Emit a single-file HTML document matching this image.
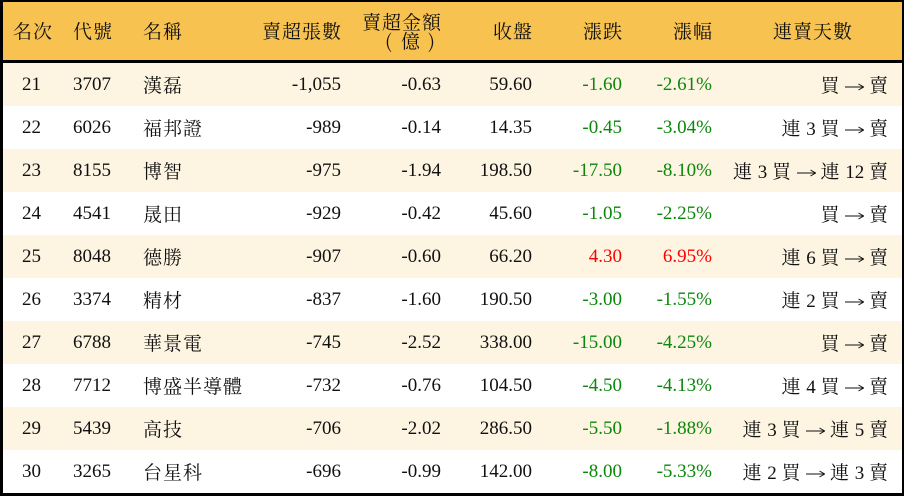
<!DOCTYPE html>
<html><head><meta charset="utf-8">
<style>
html,body{margin:0;padding:0;background:#fff;}
body{width:904px;height:496px;position:relative;overflow:hidden;font-family:"Liberation Serif","Noto Serif CJK SC",serif;font-size:19px;color:#111;}
.frame{position:absolute;left:0;top:0;width:904px;height:496px;box-sizing:border-box;border:2px solid #000;border-left-width:3px;border-bottom-width:3px;}
.hdr{position:absolute;left:0;top:0;width:904px;height:60px;background:#F8C251;}
.hline{position:absolute;left:0;top:60px;width:904px;height:3px;background:#000;}
.row{position:absolute;left:0;width:904px;height:43px;}
.c{position:absolute;top:0;height:43px;line-height:43px;white-space:nowrap;}
.h{position:absolute;top:2px;height:58px;line-height:58px;white-space:nowrap;letter-spacing:1px;}
.cj{font-family:"Noto Serif CJK SC","Liberation Serif",serif;letter-spacing:1px;}
.g{color:#0B870B;}
.r{color:#FF0000;}
svg.ar{vertical-align:middle;position:relative;top:-1px;margin:0;}
.p{position:absolute;font-family:"Noto Serif CJK SC",serif;line-height:18px;}
</style></head><body>
<div class="hdr"></div>
<div class="hline"></div>

<div class="h cj" style="left:13px;">名次</div>
<div class="h cj" style="left:73px;">代號</div>
<div class="h cj" style="left:143px;">名稱</div>
<div class="h cj" style="right:562px;">賣超張數</div>
<div class="cj" style="position:absolute;right:462px;top:13px;line-height:18px;text-align:right;letter-spacing:1px;">賣超金額</div>
<span class="p" style="left:385px;top:32px;">(</span>
<span class="p" style="left:401px;top:32px;">億</span>
<span class="p" style="left:428px;top:32px;">)</span>
<div class="h cj" style="right:371px;">收盤</div>
<div class="h cj" style="right:281px;">漲跌</div>
<div class="h cj" style="right:191px;">漲幅</div>
<div class="h cj" style="left:773px;">連賣天數</div>

<div class="row" style="top:63px;background:#FDF4E1;">
<span class="c" style="left:22px;">21</span><span class="c" style="left:73px;">3707</span><span class="c cj" style="left:143px;">漢磊</span>
<span class="c" style="right:563px;">-1,055</span><span class="c" style="right:463px;">-0.63</span><span class="c" style="right:372px;">59.60</span>
<span class="c g" style="right:282px;">-1.60</span><span class="c g" style="right:192px;">-2.61%</span>
<span class="c" style="right:15px;"><span class="cj">買</span> <svg class="ar" width="19" height="10"><line x1="0" y1="5" x2="18" y2="5" stroke="#111" stroke-width="1"/><path d="M13.5 2 L18.6 5 L13.5 8" fill="none" stroke="#111" stroke-width="1"/></svg> <span class="cj">賣</span></span></div>

<div class="row" style="top:106px;background:#fff;">
<span class="c" style="left:22px;">22</span><span class="c" style="left:73px;">6026</span><span class="c cj" style="left:143px;">福邦證</span>
<span class="c" style="right:563px;">-989</span><span class="c" style="right:463px;">-0.14</span><span class="c" style="right:372px;">14.35</span>
<span class="c g" style="right:282px;">-0.45</span><span class="c g" style="right:192px;">-3.04%</span>
<span class="c" style="right:15px;"><span class="cj">連</span> 3 <span class="cj">買</span> <svg class="ar" width="19" height="10"><line x1="0" y1="5" x2="18" y2="5" stroke="#111" stroke-width="1"/><path d="M13.5 2 L18.6 5 L13.5 8" fill="none" stroke="#111" stroke-width="1"/></svg> <span class="cj">賣</span></span></div>

<div class="row" style="top:149px;background:#FDF4E1;">
<span class="c" style="left:22px;">23</span><span class="c" style="left:73px;">8155</span><span class="c cj" style="left:143px;">博智</span>
<span class="c" style="right:563px;">-975</span><span class="c" style="right:463px;">-1.94</span><span class="c" style="right:372px;">198.50</span>
<span class="c g" style="right:282px;">-17.50</span><span class="c g" style="right:192px;">-8.10%</span>
<span class="c" style="right:15px;"><span class="cj">連</span> 3 <span class="cj">買</span> <svg class="ar" width="19" height="10"><line x1="0" y1="5" x2="18" y2="5" stroke="#111" stroke-width="1"/><path d="M13.5 2 L18.6 5 L13.5 8" fill="none" stroke="#111" stroke-width="1"/></svg> <span class="cj">連</span> 12 <span class="cj">賣</span></span></div>

<div class="row" style="top:192px;background:#fff;">
<span class="c" style="left:22px;">24</span><span class="c" style="left:73px;">4541</span><span class="c cj" style="left:143px;">晟田</span>
<span class="c" style="right:563px;">-929</span><span class="c" style="right:463px;">-0.42</span><span class="c" style="right:372px;">45.60</span>
<span class="c g" style="right:282px;">-1.05</span><span class="c g" style="right:192px;">-2.25%</span>
<span class="c" style="right:15px;"><span class="cj">買</span> <svg class="ar" width="19" height="10"><line x1="0" y1="5" x2="18" y2="5" stroke="#111" stroke-width="1"/><path d="M13.5 2 L18.6 5 L13.5 8" fill="none" stroke="#111" stroke-width="1"/></svg> <span class="cj">賣</span></span></div>

<div class="row" style="top:235px;background:#FDF4E1;">
<span class="c" style="left:22px;">25</span><span class="c" style="left:73px;">8048</span><span class="c cj" style="left:143px;">德勝</span>
<span class="c" style="right:563px;">-907</span><span class="c" style="right:463px;">-0.60</span><span class="c" style="right:372px;">66.20</span>
<span class="c r" style="right:282px;">4.30</span><span class="c r" style="right:192px;">6.95%</span>
<span class="c" style="right:15px;"><span class="cj">連</span> 6 <span class="cj">買</span> <svg class="ar" width="19" height="10"><line x1="0" y1="5" x2="18" y2="5" stroke="#111" stroke-width="1"/><path d="M13.5 2 L18.6 5 L13.5 8" fill="none" stroke="#111" stroke-width="1"/></svg> <span class="cj">賣</span></span></div>

<div class="row" style="top:278px;background:#fff;">
<span class="c" style="left:22px;">26</span><span class="c" style="left:73px;">3374</span><span class="c cj" style="left:143px;">精材</span>
<span class="c" style="right:563px;">-837</span><span class="c" style="right:463px;">-1.60</span><span class="c" style="right:372px;">190.50</span>
<span class="c g" style="right:282px;">-3.00</span><span class="c g" style="right:192px;">-1.55%</span>
<span class="c" style="right:15px;"><span class="cj">連</span> 2 <span class="cj">買</span> <svg class="ar" width="19" height="10"><line x1="0" y1="5" x2="18" y2="5" stroke="#111" stroke-width="1"/><path d="M13.5 2 L18.6 5 L13.5 8" fill="none" stroke="#111" stroke-width="1"/></svg> <span class="cj">賣</span></span></div>

<div class="row" style="top:321px;background:#FDF4E1;">
<span class="c" style="left:22px;">27</span><span class="c" style="left:73px;">6788</span><span class="c cj" style="left:143px;">華景電</span>
<span class="c" style="right:563px;">-745</span><span class="c" style="right:463px;">-2.52</span><span class="c" style="right:372px;">338.00</span>
<span class="c g" style="right:282px;">-15.00</span><span class="c g" style="right:192px;">-4.25%</span>
<span class="c" style="right:15px;"><span class="cj">買</span> <svg class="ar" width="19" height="10"><line x1="0" y1="5" x2="18" y2="5" stroke="#111" stroke-width="1"/><path d="M13.5 2 L18.6 5 L13.5 8" fill="none" stroke="#111" stroke-width="1"/></svg> <span class="cj">賣</span></span></div>

<div class="row" style="top:364px;background:#fff;">
<span class="c" style="left:22px;">28</span><span class="c" style="left:73px;">7712</span><span class="c cj" style="left:143px;">博盛半導體</span>
<span class="c" style="right:563px;">-732</span><span class="c" style="right:463px;">-0.76</span><span class="c" style="right:372px;">104.50</span>
<span class="c g" style="right:282px;">-4.50</span><span class="c g" style="right:192px;">-4.13%</span>
<span class="c" style="right:15px;"><span class="cj">連</span> 4 <span class="cj">買</span> <svg class="ar" width="19" height="10"><line x1="0" y1="5" x2="18" y2="5" stroke="#111" stroke-width="1"/><path d="M13.5 2 L18.6 5 L13.5 8" fill="none" stroke="#111" stroke-width="1"/></svg> <span class="cj">賣</span></span></div>

<div class="row" style="top:407px;background:#FDF4E1;">
<span class="c" style="left:22px;">29</span><span class="c" style="left:73px;">5439</span><span class="c cj" style="left:143px;">高技</span>
<span class="c" style="right:563px;">-706</span><span class="c" style="right:463px;">-2.02</span><span class="c" style="right:372px;">286.50</span>
<span class="c g" style="right:282px;">-5.50</span><span class="c g" style="right:192px;">-1.88%</span>
<span class="c" style="right:15px;"><span class="cj">連</span> 3 <span class="cj">買</span> <svg class="ar" width="19" height="10"><line x1="0" y1="5" x2="18" y2="5" stroke="#111" stroke-width="1"/><path d="M13.5 2 L18.6 5 L13.5 8" fill="none" stroke="#111" stroke-width="1"/></svg> <span class="cj">連</span> 5 <span class="cj">賣</span></span></div>

<div class="row" style="top:450px;background:#fff;">
<span class="c" style="left:22px;">30</span><span class="c" style="left:73px;">3265</span><span class="c cj" style="left:143px;">台星科</span>
<span class="c" style="right:563px;">-696</span><span class="c" style="right:463px;">-0.99</span><span class="c" style="right:372px;">142.00</span>
<span class="c g" style="right:282px;">-8.00</span><span class="c g" style="right:192px;">-5.33%</span>
<span class="c" style="right:15px;"><span class="cj">連</span> 2 <span class="cj">買</span> <svg class="ar" width="19" height="10"><line x1="0" y1="5" x2="18" y2="5" stroke="#111" stroke-width="1"/><path d="M13.5 2 L18.6 5 L13.5 8" fill="none" stroke="#111" stroke-width="1"/></svg> <span class="cj">連</span> 3 <span class="cj">賣</span></span></div>

<div class="frame"></div>
</body></html>
